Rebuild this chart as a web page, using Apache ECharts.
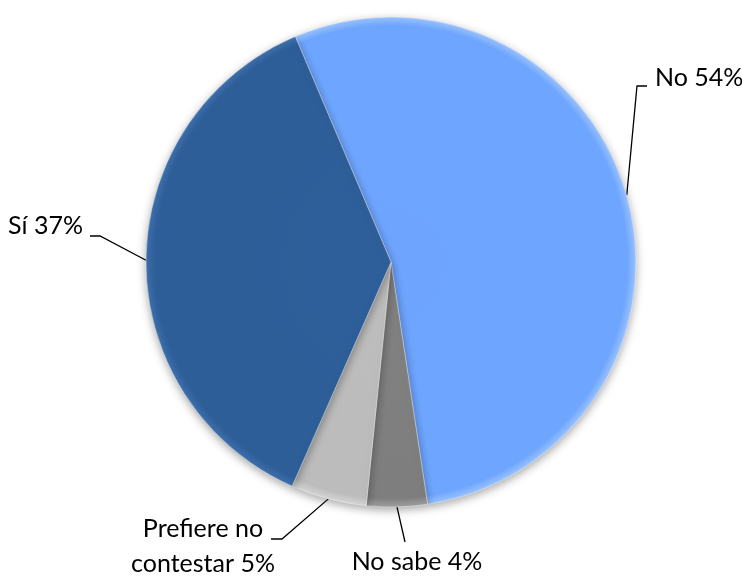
<!DOCTYPE html>
<html>
<head>
<meta charset="utf-8">
<script src="https://cdn.jsdelivr.net/npm/echarts@6/dist/echarts.min.js"></script>
<style>
  html, body { margin: 0; padding: 0; background: #fff; }
  #chart { width: 742px; height: 576px; }
</style>
</head>
<body>
<div id="chart"></div>
<script>
// datos de la encuesta
const categories = ['No', 'No sabe', 'Prefiere no\ncontestar', 'Sí'];
const values = [54, 4, 5, 37];

// posición de cada etiqueta: [x, y, align, codo x, codo y, fin x, fin y]
const labelSpots = [
  [655, 78, 'left', 637, 86, 647, 86],
  [417, 562, 'center', 405, 542, 405, 542],
  [203, 546, 'center', 282, 539, 271, 539],
  [83, 226, 'right', 100, 236, 90, 236]
];

const cx = 391, cy = 262, R = 245;

function shade(inner, mid, rim) {
  return {
    type: 'radial', x: cx, y: cy, r: R, global: true,
    colorStops: [
      { offset: 0, color: inner },
      { offset: 0.9, color: mid },
      { offset: 0.965, color: mid },
      { offset: 1, color: rim }
    ]
  };
}

const sliceColors = [
  shade('#6ea4fe', '#6ea6ff', '#9cc4ff'),
  shade('#828282', '#7e7e7e', '#a0a0a0'),
  shade('#bdbdbd', '#bcbcbc', '#d6d6d6'),
  shade('#2f5f9a', '#2e5e98', '#3f70ad')
];

let myEchart = echarts.init(document.getElementById('chart'));
let option = {
  animation: false,
  series: [
    {
      type: 'pie',
      center: [cx, cy],
      radius: [0, R],
      startAngle: 113,
      clockwise: true,
      data: categories.map((name, i) => ({
        name: name,
        value: values[i],
        itemStyle: { color: sliceColors[i] }
      })),
      itemStyle: {
        borderColor: 'rgba(255,255,255,0.35)',
        borderWidth: 1,
        shadowColor: 'rgba(0,0,0,0.35)',
        shadowBlur: 10,
        shadowOffsetY: 3
      },
      label: {
        show: true,
        color: '#000',
        fontFamily: 'Lato',
        fontSize: 25,
        lineHeight: 35,
        overflow: 'none',
        formatter: function (p) {
          return p.name + ' ' + p.percent + '%';
        }
      },
      labelLine: {
        show: true,
        length: 20,
        length2: 10,
        lineStyle: { color: '#000', width: 1.3 }
      },
      labelLayout: function (params) {
        let s = labelSpots[params.dataIndex];
        let p0 = params.labelLinePoints ? params.labelLinePoints[0] : [s[3], s[4]];
        return {
          x: s[0],
          y: s[1],
          align: s[2],
          verticalAlign: 'middle',
          labelLinePoints: [p0, [s[3], s[4]], [s[5], s[6]]]
        };
      },
      emphasis: { disabled: true }
    }
  ]
};
myEchart.setOption(option);
</script>
</body>
</html>
